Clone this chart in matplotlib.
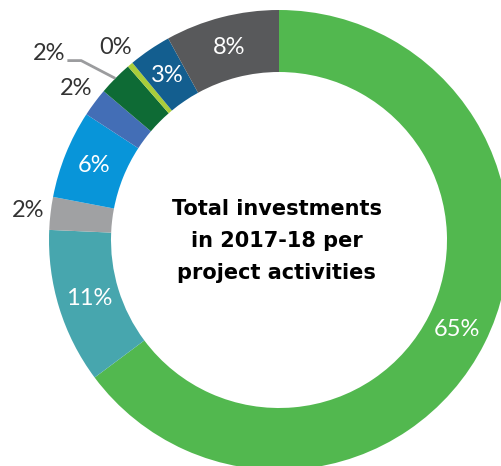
import numpy as np
import matplotlib.pyplot as plt

# Investment shares per project activity (percent), clockwise from the top
shares = [64.8, 10.9, 2.3, 6.2, 2.0, 2.4, 0.4, 3.0, 8.0]
colors = ['#52b84f', '#47a6ae', '#a0a1a3', '#0895d9', '#436eb6',
          '#0e6b35', '#a9cd3a', '#135e8f', '#58595b']
# which labels sit inside the ring (white) and which outside (dark)
inside = [True, True, False, True, False, False, False, True, True]

center_title = 'Total investments\nin 2017-18 per\nproject activities'

plt.rcParams['font.family'] = ['Lato', 'DejaVu Sans']

fig = plt.figure(figsize=(5.01, 4.66), dpi=100)
ax = fig.add_axes([0, 0, 1, 1])

R = 1.0
inner = 168 / 230
wedges, _ = ax.pie(shares, colors=colors, radius=R, startangle=90, counterclock=False,
                   wedgeprops=dict(width=R - inner, linewidth=0))

lbl = dict(fontsize=17, fontweight='normal', ha='center', va='center')
for i, w in enumerate(wedges):
    ang = np.deg2rad((w.theta1 + w.theta2) / 2)
    txt = f'{shares[i]:.0f}%'
    if inside[i]:
        r = (R + inner) / 2
        ax.text(r * np.cos(ang), r * np.sin(ang), txt, color='white', **lbl)
    elif i == 5:
        # small slice gets a leader line
        xy = (R * np.cos(ang), R * np.sin(ang))
        lx, ly = -0.86, 0.78
        ax.plot([xy[0], lx, lx - 0.06], [xy[1], ly, ly], color='#9b9c9e', lw=2,
                solid_capstyle='butt')
        ax.text(-1.0, ly + 0.03, txt, color='#333333', **lbl)
    else:
        r = 1.1
        ax.text(r * np.cos(ang), r * np.sin(ang), txt, color='#333333', **lbl)

ax.text(-0.01, -0.005, center_title, ha='center', va='center', fontsize=15,
        fontweight='bold', color='black', linespacing=1.75, family='DejaVu Sans')

ax.set_xlim(-279 / 230, (501 - 279) / 230)
ax.set_ylim(-(466 - 240) / 230, 240 / 230)
ax.set_aspect('equal')
ax.axis('off')

fig.savefig('out.png', dpi=100, facecolor='white')
